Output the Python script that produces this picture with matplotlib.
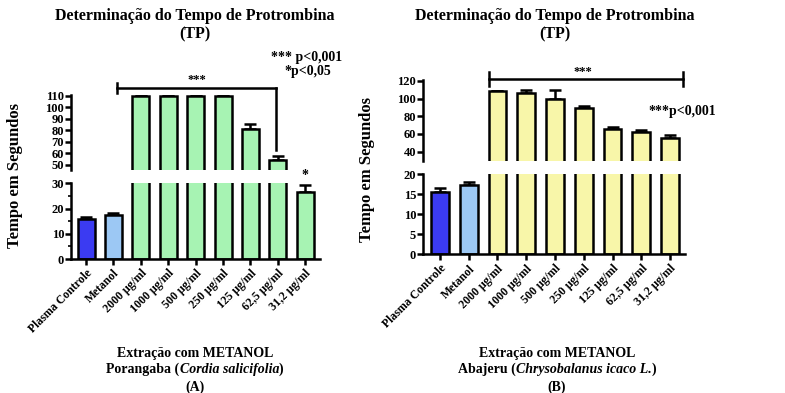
import matplotlib
matplotlib.use("Agg")
import matplotlib.pyplot as plt
import numpy as np

categories = ["Plasma Controle", "Metanol", "2000 µg/ml", "1000 µg/ml", "500 µg/ml",
              "250 µg/ml", "125 µg/ml", "62,5 µg/ml", "31,2 µg/ml"]
values_a = [15.7, 17.3, 110, 110, 110, 110, 81.5, 54, 26.5]
errors_a = [1.0, 0.8, 0, 0, 0, 0, 4.5, 3.5, 3.0]
values_b = [15.6, 17.4, 108.7, 106.8, 100, 89.8, 66, 62.3, 55.1]
errors_b = [1.0, 0.7, 0.5, 3.0, 9.8, 1.9, 2.0, 2.2, 3.8]

plasma_color = "#3b3bf2"
metanol_color = "#9cc8f4"
green = "#a7f3b3"
yellow = "#f8f6a9"

FONT = "Liberation Serif"
plt.rcParams['font.family'] = [FONT, 'DejaVu Serif']
plt.rcParams['font.weight'] = 'bold'

W, H = 785, 393
fig = plt.figure(figsize=(W / 100, H / 100), dpi=100)

def fx(px):
    return px / W

def fy(py):
    return 1 - py / H

def make_axes(left, right, top, bottom):
    return fig.add_axes([fx(left), fy(bottom), fx(right - left), fy(top) - fy(bottom)])

LW = 1.8

def style(ax, upper):
    for s in ['right', 'top']:
        ax.spines[s].set_visible(False)
    ax.spines['left'].set_linewidth(LW)
    ax.spines['bottom'].set_linewidth(LW)
    ax.tick_params(axis='y', direction='out', width=LW, length=4, labelsize=9, pad=1)
    ax.tick_params(axis='y', which='minor', direction='out', width=1.2, length=2.5)
    if upper:
        ax.spines['bottom'].set_visible(False)
        ax.tick_params(axis='x', bottom=False, labelbottom=False)
    for t in ax.get_yticklabels():
        t.set_fontweight('bold')

def draw_bars(ax, vals, errs, color):
    x = np.arange(len(vals))
    cols = [plasma_color, metanol_color] + [color] * (len(vals) - 2)
    ax.bar(x, vals, width=0.62, color=cols, edgecolor='black', linewidth=LW, zorder=2)
    ax.errorbar(x, vals, yerr=[np.zeros(len(vals)), errs], fmt='none', ecolor='black',
                elinewidth=LW, capsize=4, capthick=LW, zorder=1)
    return x

# ---------- Panel A ----------
axA_up = make_axes(71, 320, 94.8, 169.6)
axA_lo = make_axes(71, 320, 183.3, 259)
for ax in (axA_up, axA_lo):
    draw_bars(ax, values_a, errors_a, green)
    ax.set_xlim(-0.55, 8.54)
axA_up.set_ylim(46, 111)
axA_up.set_yticks([50, 60, 70, 80, 90, 100, 110])
axA_lo.set_ylim(0, 30)
axA_lo.set_yticks([0, 10, 20, 30])
axA_lo.set_yticks([5, 15, 25], minor=True)
style(axA_up, True)
style(axA_lo, False)
axA_lo.set_xticks(np.arange(len(categories)))
axA_lo.set_xticklabels(categories, rotation=45, ha='right', rotation_mode='anchor',
                       fontsize=8.5, fontweight='bold')
axA_lo.tick_params(axis='x', direction='out', width=LW, length=4, pad=2)

# significance A
axA_up.plot([1.13, 6.93], [117, 117], color='black', lw=LW, clip_on=False)
axA_up.plot([1.13, 1.13], [112.5, 121.5], color='black', lw=LW, clip_on=False)
axA_up.plot([6.93, 6.93], [117, 63], color='black', lw=LW, clip_on=False)
axA_up.text(4.05, 118.5, "***", ha='center', va='bottom', fontsize=9, fontweight='bold')
axA_lo.text(8, 30.5, "*", ha='center', va='bottom', fontsize=10, fontweight='bold')
fig.text(fx(307), fy(57), "*** p<0,001", ha='center', va='center', fontsize=10, fontweight='bold')
fig.text(fx(308), fy(72), "*p<0,05", ha='center', va='center', fontsize=10, fontweight='bold')

# ---------- Panel B ----------
axB_up = make_axes(423, 685, 80.1, 160.5)
axB_lo = make_axes(423, 685, 174.3, 254.3)
for ax in (axB_up, axB_lo):
    draw_bars(ax, values_b, errors_b, yellow)
    ax.set_xlim(-0.59, 8.52)
axB_up.set_ylim(30, 121)
axB_up.set_yticks([40, 60, 80, 100, 120])
axB_lo.set_ylim(0, 20)
axB_lo.set_yticks([0, 5, 10, 15, 20])
style(axB_up, True)
style(axB_lo, False)
axB_lo.set_xticks(np.arange(len(categories)))
axB_lo.set_xticklabels(categories, rotation=45, ha='right', rotation_mode='anchor',
                       fontsize=8.5, fontweight='bold')
axB_lo.tick_params(axis='x', direction='out', width=LW, length=4, pad=2)

axB_up.plot([1.69, 8.45], [121.9, 121.9], color='black', lw=LW, clip_on=False)
axB_up.plot([1.69, 1.69], [114.3, 130.2], color='black', lw=LW, clip_on=False)
axB_up.plot([8.45, 8.45], [114.3, 130.2], color='black', lw=LW, clip_on=False)
axB_up.text(4.97, 123.5, "***", ha='center', va='bottom', fontsize=9, fontweight='bold')
fig.text(fx(682), fy(112), "***p<0,001", ha='center', va='center', fontsize=10, fontweight='bold')

# ---------- titles / labels ----------
for cx in (195, 555):
    fig.text(fx(cx), fy(16), "Determinação do Tempo de Protrombina", ha='center', va='center',
             fontsize=11.5, fontweight='bold')
    fig.text(fx(cx), fy(34), "(TP)", ha='center', va='center', fontsize=11.5, fontweight='bold')

fig.text(fx(15), fy(176), "Tempo em Segundos", rotation=90, ha='center', va='center',
         fontsize=12, fontweight='bold')
fig.text(fx(367), fy(170), "Tempo em Segundos", rotation=90, ha='center', va='center',
         fontsize=12, fontweight='bold')

renderer = fig.canvas.get_renderer()

def mixed_line(cx, cy, parts, fontsize=10):
    texts = []
    for s, style_ in parts:
        t = fig.text(0, fy(cy), s, ha='left', va='center', fontsize=fontsize,
                     fontweight='bold', fontstyle=style_)
        texts.append(t)
    widths = [t.get_window_extent(renderer).width for t in texts]
    total = sum(widths)
    x = cx - total / 2
    for t, w in zip(texts, widths):
        t.set_x(fx(x))
        x += w

for cx, parts, lab in ((195, [("Porangaba (", 'normal'), ("Cordia salicifolia", 'italic'), (")", 'normal')], "(A)"),
                       (557, [("Abajeru (", 'normal'), ("Chrysobalanus icaco L.", 'italic'), (")", 'normal')], "(B)")):
    fig.text(fx(cx), fy(353), "Extração com METANOL", ha='center', va='center', fontsize=10, fontweight='bold')
    mixed_line(cx, 369, parts)
    fig.text(fx(cx), fy(387), lab, ha='center', va='center', fontsize=10, fontweight='bold')

fig.savefig("out.png", dpi=100)
